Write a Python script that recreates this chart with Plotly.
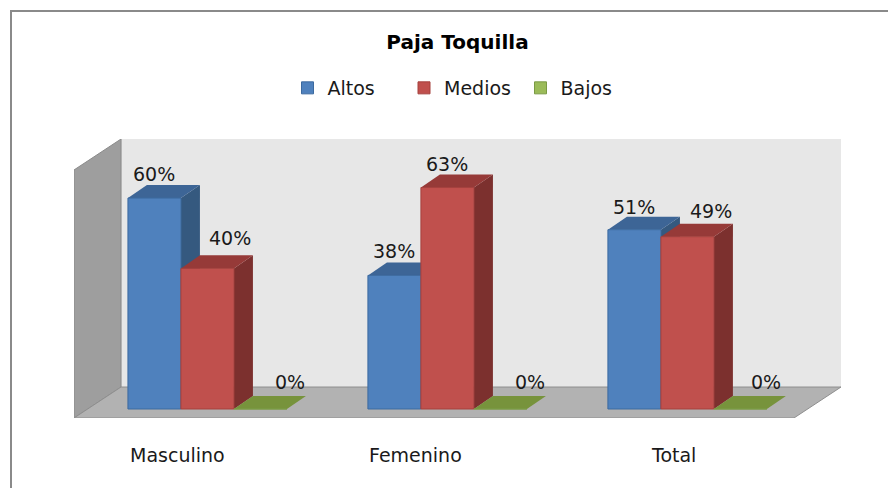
import plotly.graph_objects as go

# ---------------- data ----------------
categories = ["Masculino", "Femenino", "Total"]
series_names = ["Altos", "Medios", "Bajos"]
altos = [60, 38, 51]
medios = [40, 63, 49]
bajos = [0, 0, 0]
series_values = [altos, medios, bajos]

# ---------------- style ----------------
FONT = "DejaVu Sans"
front_col = ["#4F81BD", "#C0504D", "#9BBB59"]
edge_col = ["#3C6A9F", "#A5403D", "#7A9A44"]
top_col = ["#3D6596", "#963A38", "#77933C"]
side_col = ["#35597F", "#7C302E", "#5E7530"]

BW = 53 / 240          # bar width (category units)
offsets = [-BW, 0, BW]
DX, DY = 19 / 240, 3.7  # bar depth offsets
WX, WY = 0.196, 8.81    # wall/floor depth offsets
XR = [-0.556, 2.640]
YR = [-2.56, 76.8]

# page has an 8px body margin; figure coords = page coords - 8
ML, MT, PW, PH = 66, 131, 767, 279
PB = MT + PH  # plot bottom in figure px

# per-label pixel nudges (series x category)
lab_dx = [[0, 0, 0], [23, 0, 24], [30, 30, 26]]
lab_dy = [[24, 24, 23], [30, 24, 26], [27, 27, 27]]
cat_dx = [-30, -32, -14]

fig = go.Figure()

for s, name in enumerate(series_names):
    fig.add_trace(go.Bar(
        x=[i + offsets[s] for i in range(len(categories))],
        y=series_values[s],
        width=BW,
        name=name,
        marker=dict(color=front_col[s], line=dict(color=edge_col[s], width=1)),
        hoverinfo="skip",
    ))

shapes = []
# back wall
shapes.append(dict(type="path", xref="x", yref="y", layer="below",
                   path=f"M{XR[0]+WX},{YR[0]+WY} L{XR[1]},{YR[0]+WY} L{XR[1]},{YR[1]} L{XR[0]+WX},{YR[1]} Z",
                   fillcolor="#E7E7E7", line=dict(width=0)))
# left wall
shapes.append(dict(type="path", xref="x", yref="y", layer="below",
                   path=f"M{XR[0]},{YR[0]} L{XR[0]},{YR[1]-WY} L{XR[0]+WX},{YR[1]} L{XR[0]+WX},{YR[0]+WY} Z",
                   fillcolor="#9E9E9E", line=dict(color="#8A8A8A", width=1)))
# floor
shapes.append(dict(type="path", xref="x", yref="y", layer="below",
                   path=f"M{XR[0]},{YR[0]} L{XR[1]-WX},{YR[0]} L{XR[1]},{YR[0]+WY} L{XR[0]+WX},{YR[0]+WY} Z",
                   fillcolor="#B2B2B2", line=dict(color="#8E8E8E", width=1)))

for i in range(len(categories)):
    for s in range(len(series_names)):
        v = series_values[s][i]
        xl = i + offsets[s] - BW / 2
        xr = i + offsets[s] + BW / 2
        if v > 0:
            shapes.append(dict(type="path", xref="x", yref="y", layer="below",
                               path=f"M{xr},0 L{xr},{v} L{xr+DX},{v+DY} L{xr+DX},{DY} Z",
                               fillcolor=side_col[s], line=dict(width=0)))
        shapes.append(dict(type="path", xref="x", yref="y", layer="below",
                           path=f"M{xl},{v} L{xr},{v} L{xr+DX},{v+DY} L{xl+DX},{v+DY} Z",
                           fillcolor=top_col[s], line=dict(width=0)))

# outer chart border (top-left corner at page (11,11))
shapes.append(dict(type="rect", xref="paper", yref="paper",
                   x0=(3 - ML) / PW, x1=1.3, y0=-0.6, y1=(PB - 3) / PH,
                   line=dict(color="#8A8A8A", width=2), fillcolor="rgba(0,0,0,0)"))

annotations = []
for s in range(len(series_names)):
    for i in range(len(categories)):
        v = series_values[s][i]
        annotations.append(dict(x=i + offsets[s], y=v, xref="x", yref="y",
                                text=f"{v}%", showarrow=False,
                                xshift=lab_dx[s][i], yshift=lab_dy[s][i],
                                yanchor="middle",
                                font=dict(family=FONT, size=19, color="#1A1A1A")))
for i, c in enumerate(categories):
    annotations.append(dict(x=i, y=(PB - 447) / PH, xref="x", yref="paper",
                            text=c, showarrow=False, xshift=cat_dx[i],
                            yanchor="middle",
                            font=dict(family=FONT, size=19, color="#1A1A1A")))

fig.update_layout(
    width=896, height=488,
    margin=dict(l=ML, r=896 - ML - PW, t=MT, b=488 - MT - PH),
    paper_bgcolor="white", plot_bgcolor="rgba(0,0,0,0)",
    barmode="overlay",
    title=dict(text="<b>Paja Toquilla</b>", x=0.5, xref="paper",
               y=1 - 34 / 488, yref="container", yanchor="middle", xanchor="center",
               font=dict(family=FONT, size=20, color="black")),
    legend=dict(orientation="h", x=0.5 + 5 / PW, xanchor="center",
                y=(PB - 80) / PH, yanchor="middle",
                entrywidth=71.5, entrywidthmode="pixels",
                font=dict(family=FONT, size=19, color="#1A1A1A"),
                itemclick=False, itemdoubleclick=False),
    xaxis=dict(range=XR, visible=False, fixedrange=True),
    yaxis=dict(range=YR, visible=False, fixedrange=True),
    shapes=shapes,
    annotations=annotations,
    showlegend=True,
)

fig.write_html("out.html")
